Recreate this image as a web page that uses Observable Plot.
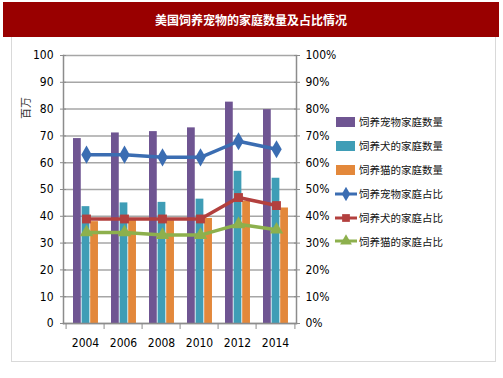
<!DOCTYPE html>
<html><head><meta charset="utf-8">
<script src="https://cdn.jsdelivr.net/npm/d3@7"></script>
<script src="https://cdn.jsdelivr.net/npm/@observablehq/plot@0.6"></script>
<style>
body{margin:0;background:#fff;}
#wrap{position:relative;width:503px;height:378px;overflow:hidden;font-family:"Noto Sans CJK SC",sans-serif;}
#banner{position:absolute;left:3px;top:2px;width:496px;height:35px;background:#990000;color:#fff;font-weight:bold;font-size:12px;line-height:35px;text-align:center;}
#border{position:absolute;left:11px;top:37px;width:483px;height:324px;border:1px solid #d9d9d9;border-top:none;}
#chart{position:absolute;left:0;top:0;}
#ylabel{position:absolute;left:8px;top:100px;width:34px;height:16px;line-height:16px;font-size:11px;color:#333;text-align:center;transform:rotate(-90deg);}
#legend{position:absolute;left:335px;top:110px;font-size:10.5px;color:#111;}
.row{height:23.9px;display:flex;align-items:center;}
.row svg{margin-right:2px;}
</style></head>
<body>
<div id="wrap">
  <div id="border"></div>
  <div id="chart"></div>
  <div id="banner"></div>
  <div id="ylabel"></div>
  <div id="legend"></div>
</div>
<script>
const title = "美国饲养宠物的家庭数量及占比情况";
const yLabel = "百万";
const years = ["2004", "2006", "2008", "2010", "2012", "2014"];
const petHouseholds = [69.0, 71.1, 71.6, 73.0, 82.6, 79.8];
const dogHouseholds = [43.6, 45.0, 45.2, 46.4, 56.8, 54.2];
const catHouseholds = [38.0, 38.6, 38.4, 39.2, 45.6, 43.1];
const petShare = [63, 63, 62, 62, 68, 65];
const dogShare = [39, 39, 39, 39, 47, 44];
const catShare = [34, 34, 33, 33, 37, 35];
const yTicks = [0, 10, 20, 30, 40, 50, 60, 70, 80, 90, 100];
const seriesNames = ["饲养宠物家庭数量", "饲养犬的家庭数量", "饲养猫的家庭数量", "饲养宠物家庭占比", "饲养犬的家庭占比", "饲养猫的家庭占比"];
const colors = ["#6f5592", "#3f9db6", "#e3883b", "#3b6db2", "#b3403e", "#8db04d"];
const symbols = ["diamond", "square", "triangle"];

document.getElementById("banner").textContent = title;
document.getElementById("ylabel").textContent = yLabel;

const W = 503, H = 378, mL = 63, mR = 207, mT = 55, mB = 55;
const bw = (W - mL - mR) / years.length;
const barW = 8.6, off0 = 7;

const rows = years.map((year, i) => ({
  year, pet: petHouseholds[i], dog: dogHouseholds[i], cat: catHouseholds[i],
  pShare: petShare[i], dShare: dogShare[i], cShare: catShare[i]
}));

const barKeys = ["pet", "dog", "cat"];
const bars = barKeys.map((k, j) => Plot.barY(rows, {
  x: "year", y: k, fill: colors[j],
  insetLeft: off0 + j * barW, insetRight: bw - off0 - (j + 1) * barW
}));
const shareKeys = ["pShare", "dShare", "cShare"];
const lines = shareKeys.flatMap((k, j) => [
  Plot.line(rows, {x: "year", y: k, stroke: colors[3 + j], strokeWidth: 3.5, dx: 1}),
  Plot.dot(rows, {x: "year", y: k, fill: colors[3 + j], symbol: symbols[j], r: j === 0 ? 5.5 : 5, stroke: "none", dx: 1})
]);

const axisColor = "#8c8c8c";
const chart = Plot.plot({
  width: W, height: H,
  marginLeft: mL, marginRight: mR, marginTop: mT, marginBottom: mB,
  style: {fontFamily: "'Liberation Sans Narrow', 'DejaVu Sans Condensed', sans-serif", fontSize: "12px", color: "#000", background: "transparent"},
  x: {type: "band", domain: years, padding: 0},
  y: {domain: [0, 100]},
  marks: [
    Plot.gridY(yTicks, {stroke: "#a6a6a6", strokeOpacity: 1, strokeWidth: 1.5}),
    ...bars,
    ...lines,
    Plot.frame({anchor: "left", stroke: axisColor, strokeWidth: 1.5}),
    Plot.frame({anchor: "right", stroke: axisColor, strokeWidth: 1.5}),
    Plot.frame({anchor: "bottom", stroke: axisColor, strokeWidth: 1.5}),
    Plot.axisY(yTicks, {anchor: "left", tickSize: 6, dx: 3, tickFormat: () => "", stroke: axisColor, label: null}),
    Plot.axisY(yTicks, {anchor: "left", tickSize: 0, tickPadding: 10, label: null, fill: "#000"}),
    Plot.axisY(yTicks, {anchor: "right", tickSize: 6, dx: -3, tickFormat: () => "", stroke: axisColor, label: null}),
    Plot.axisY(yTicks, {anchor: "right", tickSize: 0, tickPadding: 9, tickFormat: d => d + "%", label: null, fill: "#000"}),
    Plot.axisX(years, {anchor: "bottom", tickSize: 6, dx: -bw / 2, tickFormat: () => "", stroke: axisColor, label: null}),
    Plot.axisX(years.slice(-1), {anchor: "bottom", tickSize: 6, dx: bw / 2, tickFormat: () => "", stroke: axisColor, label: null}),
    Plot.axisX(years, {anchor: "bottom", tickSize: 0, tickPadding: 15, label: null, fill: "#000"})
  ]
});
document.getElementById("chart").appendChild(chart);

const legend = document.getElementById("legend");
seriesNames.forEach((name, i) => {
  const row = document.createElement("div");
  row.className = "row";
  const ns = "http://www.w3.org/2000/svg";
  const s = document.createElementNS(ns, "svg");
  s.setAttribute("width", 22); s.setAttribute("height", 14);
  if (i < 3) {
    const r = document.createElementNS(ns, "rect");
    r.setAttribute("x", 1); r.setAttribute("y", 2); r.setAttribute("width", 19); r.setAttribute("height", 10);
    r.setAttribute("fill", colors[i]);
    s.appendChild(r);
  } else {
    const l = document.createElementNS(ns, "line");
    l.setAttribute("x1", 0); l.setAttribute("x2", 22); l.setAttribute("y1", 7); l.setAttribute("y2", 7);
    l.setAttribute("stroke", colors[i]); l.setAttribute("stroke-width", 3);
    s.appendChild(l);
    const p = document.createElementNS(ns, "path");
    p.setAttribute("d", d3.symbol(i === 3 ? d3.symbolDiamond : i === 4 ? d3.symbolSquare : d3.symbolTriangle, 60)());
    p.setAttribute("transform", "translate(11,7)");
    p.setAttribute("fill", colors[i]);
    s.appendChild(p);
  }
  row.appendChild(s);
  const t = document.createElement("span");
  t.textContent = name;
  row.appendChild(t);
  legend.appendChild(row);
});
</script>
</body></html>
